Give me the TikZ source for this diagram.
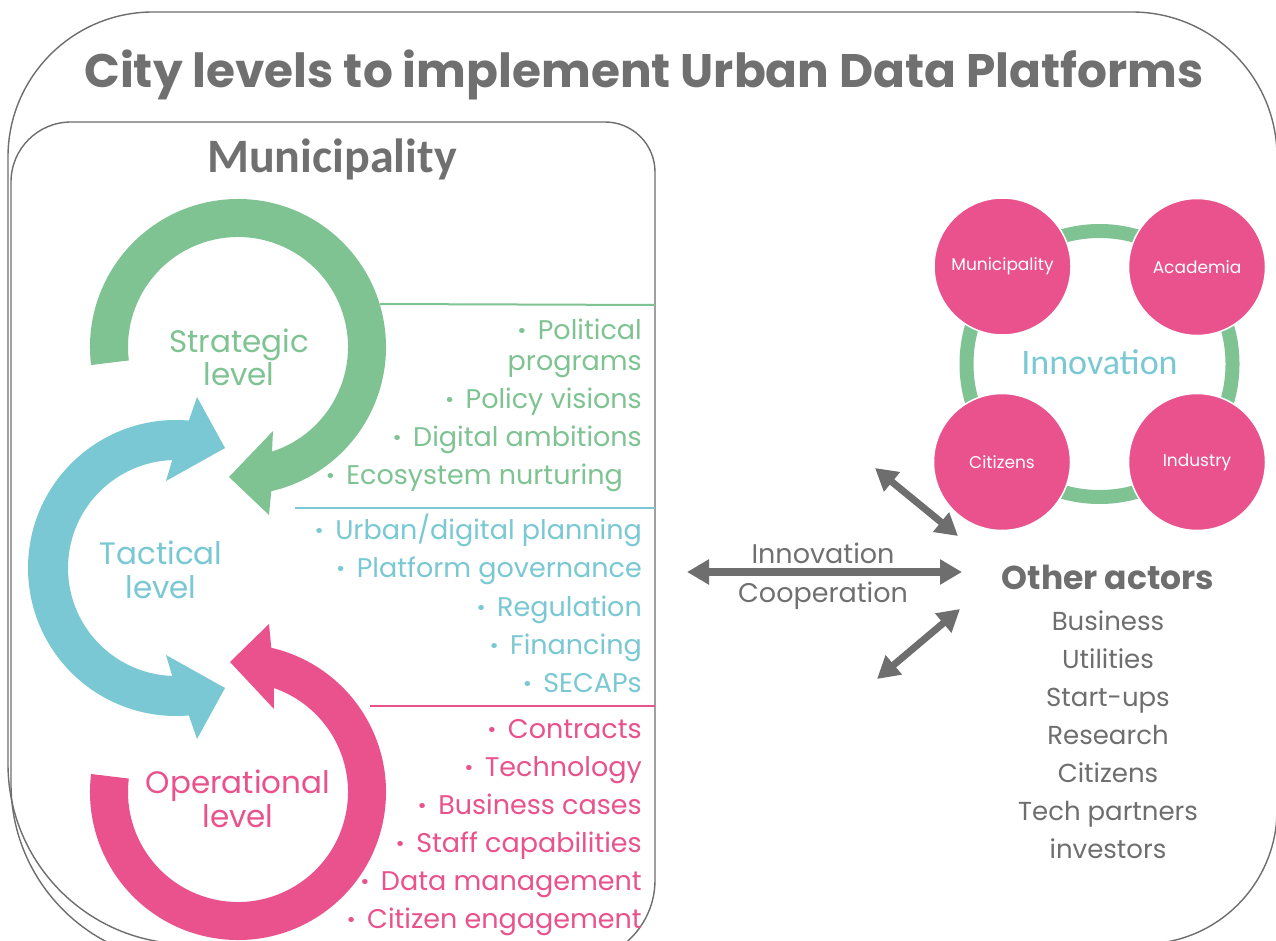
\documentclass[tikz,border=0pt]{standalone}
\usepackage{fontspec}
\setmainfont{Poppins}
\newfontfamily\calib{Carlito}
\usetikzlibrary{arrows.meta}
\definecolor{cgreen}{HTML}{7FC393}
\definecolor{cblue}{HTML}{79C8D3}
\definecolor{cpink}{HTML}{E9528C}
\definecolor{cgray}{HTML}{6E6E6E}
\definecolor{tgray}{HTML}{707070}
\newcommand\bul{{\bfseries ·}\hspace{12pt}}
\newcommand\fs[1]{\fontsize{#1}{#1}\selectfont}
\begin{document}
\begin{tikzpicture}[x=1pt,y=-1pt,
  frame/.style={draw=cgray,line width=1.4},
  lst/.style={anchor=base east,inner sep=0pt,font=\fs{27}},
  lvl/.style={anchor=base,inner sep=0pt,font=\fs{31}},
  pcirc/.style={circle,fill=cpink,draw=white,line width=1.5,minimum size=137,inner sep=0pt,text=white,font=\fs{17}},
  garrow/.style={cgray,line width=8,{Triangle[length=22pt,width=24pt]}-{Triangle[length=22pt,width=24pt]}},
  mid/.style={anchor=base,inner sep=0pt,text=tgray,font=\fs{27}},
  oth/.style={anchor=base,inner sep=0pt,text=cgray,font=\fs{26}}]
\useasboundingbox (0,0) rectangle (1276,941);
\clip (0,0) rectangle (1276,941);
\fill[white] (0,0) rectangle (1276,941);
% frames
\draw[frame] (153,12) -- (1132,12) arc[start angle=270,end angle=360,radius=145] -- (1277,810) arc[start angle=0,end angle=90,radius=134] -- (188,944) arc[start angle=90,end angle=180,radius=180] -- (8,157) arc[start angle=180,end angle=270,radius=145] -- cycle;
\draw[frame] (71,122) -- (605,122) arc[start angle=270,end angle=360,radius=50] -- (655,880) arc[start angle=0,end angle=90,radius=82] -- (189,962) arc[start angle=90,end angle=180,radius=178] -- (11,182) arc[start angle=180,end angle=270,radius=60] -- cycle;
% title
\node[anchor=base,inner sep=0pt,text=tgray,font=\bfseries\fs{47}] (title) at (644,88) {City levels to implement Urban Data Platforms};
\node[anchor=base,inner sep=0pt,text=tgray,font=\calib\bfseries\fs{48}] (muni) at (332,173) {Municipality};
% circular arrows
\fill[cgreen] ([shift={(238,347)}]173:148) arc[start angle=173,end angle=437,radius=148] -- (269,515) -- (229,477) -- (273,431) -- ([shift={(238,347)}]432:110) arc[start angle=432,end angle=173,radius=110] -- cycle;
\fill[cblue] ([shift={(176,568)}]275:148) arc[start angle=275,end angle=85,radius=148] -- (197,739) -- (225,688) -- (166,655) -- ([shift={(176,568)}]92:108) arc[start angle=92,end angle=268,radius=108] -- (166,481) -- (225,448) -- (197,397) -- cycle;
\fill[cpink] ([shift={(238,792)}]187:148) arc[start angle=187,end angle=-77,radius=148] -- (269,624) -- (230,662) -- (274,709) -- ([shift={(238,792)}]-71:110) arc[start angle=-71,end angle=187,radius=110] -- cycle;
% level labels
\node[lvl,text=cgreen] (s1) at (239,352) {Strategic};
\node[lvl,text=cgreen] (s2) at (239,385) {level};
\node[lvl,text=cblue] (t1) at (161,564) {Tactical};
\node[lvl,text=cblue] (t2) at (161,598) {level};
\node[lvl,text=cpink] (o1) at (238,793) {Operational};
\node[lvl,text=cpink] (o2) at (238,827) {level};
% divider lines
\draw[cgreen,line width=2] (380,304) -- (655,305);
\draw[cblue,line width=2] (295,508) -- (655,508);
\draw[cpink,line width=2] (370,706) -- (655,706);
% lists
\node[lst,text=cgreen] (g1) at (642,339) {\bul Political};
\node[lst,text=cgreen] (g2) at (642,370) {programs};
\node[lst,text=cgreen] (g3) at (642,408) {\bul Policy visions};
\node[lst,text=cgreen] (g4) at (642,446) {\bul Digital ambitions};
\node[lst,text=cgreen] (g5) at (623,484) {\bul Ecosystem nurturing};
\node[lst,text=cblue] (b1) at (642,539) {\bul Urban/digital planning};
\node[lst,text=cblue] (b2) at (642,577) {\bul Platform governance};
\node[lst,text=cblue] (b3) at (642,616) {\bul Regulation};
\node[lst,text=cblue] (b4) at (642,654) {\bul Financing};
\node[lst,text=cblue] (b5) at (642,692) {\bul SECAPs};
\node[lst,text=cpink] (p1) at (642,738) {\bul Contracts};
\node[lst,text=cpink] (p2) at (642,776) {\bul Technology};
\node[lst,text=cpink] (p3) at (642,814) {\bul Business cases};
\node[lst,text=cpink] (p4) at (642,852) {\bul Staff capabilities};
\node[lst,text=cpink] (p5) at (642,890) {\bul Data management};
\node[lst,text=cpink] (p6) at (642,928) {\bul Citizen engagement};
% innovation cluster
\draw[cgreen,line width=14] (1099.5,364) circle[radius=133];
\node[anchor=base,inner sep=0pt,text=cblue,font=\calib\fs{36}] (inn) at (1099.5,374) {Innovation};
\node[pcirc] (cm) at (1002.5,266.5) {Municipality};
\node[pcirc] (ca) at (1197,267) {Academia};
\node[pcirc] (cc) at (1002,462) {Citizens};
\node[pcirc] (ci) at (1197,462) {Industry};
% arrows
\coordinate (hl) at (687,572);
\coordinate (hr) at (962,572);
\coordinate (d1a) at (875,468);
\coordinate (d1b) at (958,536);
\coordinate (d2a) at (877,679);
\coordinate (d2b) at (960,609);
\draw[garrow] (hl) -- (hr);
\draw[garrow,line width=7] (d1a) -- (d1b);
\draw[garrow,line width=7] (d2a) -- (d2b);
\node[mid] (mi) at (823,563) {Innovation};
\node[mid] (mc) at (823,602) {Cooperation};
% other actors
\node[anchor=base,inner sep=0pt,text=cgray,font=\bfseries\fs{33}] (oa) at (1108,589) {Other actors};
\node[oth] (a1) at (1108,630) {Business};
\node[oth] (a2) at (1108,668) {Utilities};
\node[oth] (a3) at (1108,706) {Start-ups};
\node[oth] (a4) at (1108,744) {Research};
\node[oth] (a5) at (1108,782) {Citizens};
\node[oth] (a6) at (1108,820) {Tech partners};
\node[oth] (a7) at (1108,858) {investors};
\end{tikzpicture}
\end{document}
